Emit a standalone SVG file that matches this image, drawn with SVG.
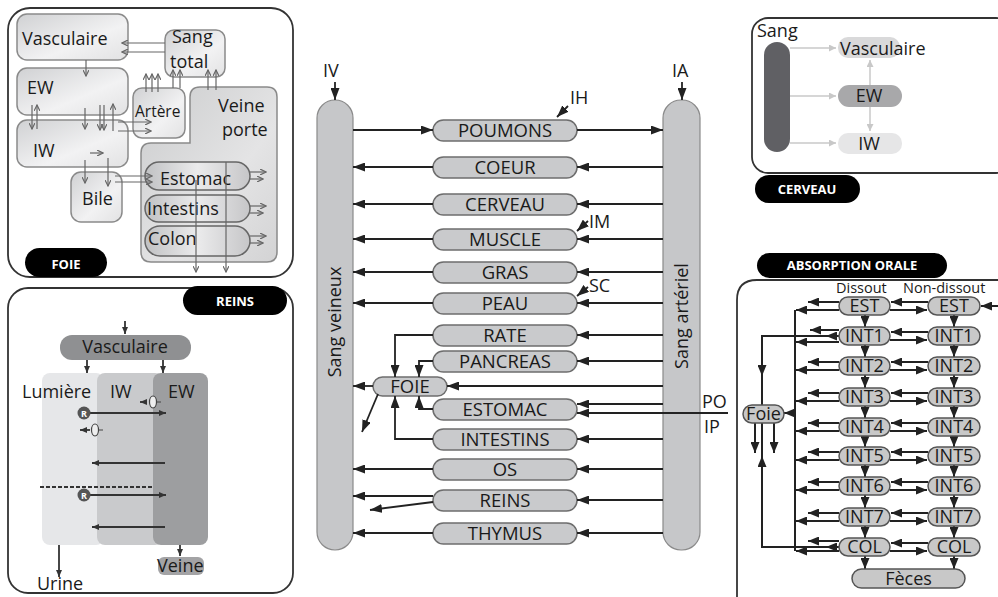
<svg xmlns="http://www.w3.org/2000/svg" width="998" height="597" viewBox="0 0 998 597">
<defs>
<style>
text{font-family:"Open Sans","Noto Sans","DejaVu Sans",sans-serif;fill:#1a1a1a}
.pill{fill:#c9cacc;stroke:#6d6d6d;stroke-width:1.5}
.col{fill:#c6c7c9;stroke:#8a8a8a;stroke-width:1.2}
.ln{fill:none;stroke:#222;stroke-width:1.8}
.t18{font-size:18px}
.t17{font-size:17px}
.tc{font-size:18.5px}
.lblt{fill:#fff;font-weight:bold;font-size:13px}
.panel{fill:#fff;stroke:#333;stroke-width:1.8}
.fb{stroke:#8a8a8a;stroke-width:1.5}
.fa{fill:none;stroke:#666;stroke-width:1.2}
.ap{fill:#c8c8c8;stroke:#555;stroke-width:1.5}
.al{fill:none;stroke:#222;stroke-width:2}
.cg{fill:none;stroke:#c8c8c8;stroke-width:1.5}
.rl{fill:none;stroke:#333;stroke-width:1.8}
</style>
<marker id="a" markerUnits="userSpaceOnUse" markerWidth="13" markerHeight="9" refX="12" refY="4.5" orient="auto"><path d="M0,0 L12,4.5 L0,9 z" fill="#222"/></marker>
<marker id="as" markerUnits="userSpaceOnUse" markerWidth="12" markerHeight="9" refX="11" refY="4.5" orient="auto"><path d="M0,0 L11,4.5 L0,9 z" fill="#222"/></marker>
<marker id="ms" markerUnits="userSpaceOnUse" markerWidth="7" markerHeight="6" refX="6" refY="3" orient="auto"><path d="M0,0 L6,3 L0,6" fill="none" stroke="#666" stroke-width="1.2"/></marker>
<marker id="rs" markerUnits="userSpaceOnUse" markerWidth="8" markerHeight="6" refX="7" refY="3" orient="auto"><path d="M0,0 L7,3 L0,6 z" fill="#333"/></marker>
<marker id="lg" markerUnits="userSpaceOnUse" markerWidth="8" markerHeight="7" refX="7" refY="3.5" orient="auto"><path d="M0,0 L7,3.5 L0,7 z" fill="#c8c8c8"/></marker>
<linearGradient id="gb" x1="0" y1="0" x2="1" y2="1"><stop offset="0" stop-color="#d0d1d3"/><stop offset="0.6" stop-color="#f2f2f3"/><stop offset="1" stop-color="#e2e2e3"/></linearGradient>
<linearGradient id="gp" x1="0" y1="0" x2="1" y2="1"><stop offset="0" stop-color="#cbcccd"/><stop offset="0.6" stop-color="#e4e4e5"/><stop offset="1" stop-color="#d3d3d4"/></linearGradient>
<linearGradient id="go" x1="0" y1="0" x2="1" y2="0"><stop offset="0" stop-color="#c0c1c3"/><stop offset="0.5" stop-color="#ebebec"/><stop offset="1" stop-color="#c6c6c8"/></linearGradient>
</defs>

<!-- ===== FOIE panel ===== -->
<g id="foie-panel">
<rect class="panel" x="8" y="8" width="285" height="269" rx="22"/>
<g id="f-vasc"><rect class="fb" fill="url(#gb)" x="17" y="14" width="111" height="46" rx="10"/><text class="t18" x="22" y="45">Vasculaire</text></g>
<g id="f-ew"><rect class="fb" fill="url(#gb)" x="17" y="68" width="111" height="47" rx="10"/><text class="t18" x="27" y="94">EW</text></g>
<g id="f-iw"><rect class="fb" fill="url(#gb)" x="17" y="120" width="111" height="47" rx="10"/><text class="t18" x="33" y="157">IW</text></g>
<g id="f-sang"><rect class="fb" fill="url(#gb)" x="165" y="30" width="60" height="47" rx="9"/><text class="t18" x="172" y="43">Sang</text><text class="t18" x="170" y="68">total</text></g>
<g id="f-artere"><rect class="fb" fill="url(#gb)" x="133" y="88" width="52" height="50" rx="9"/><text x="135" y="117" font-size="15.5">Artère</text></g>
<g id="f-veine"><path class="fb" fill="url(#gp)" d="M200,87 H267 Q277,87 277,97 V252 Q277,262 267,262 H151 Q141,262 141,252 V153 Q141,143 151,143 H190 V97 Q190,87 200,87 z"/><text class="t18" x="218" y="112">Veine</text><text class="t18" x="222" y="136">porte</text></g>
<g id="f-bile"><rect class="fb" fill="url(#gb)" x="71" y="172" width="51" height="50" rx="10"/><text class="t18" x="82" y="205">Bile</text></g>
<g id="f-estomac"><rect fill="url(#go)" stroke="#666" stroke-width="1.5" x="145" y="162" width="105" height="28" rx="14"/><text class="t18" x="160" y="185">Estomac</text></g>
<g id="f-intestins"><rect fill="url(#go)" stroke="#666" stroke-width="1.5" x="145" y="195" width="105" height="27" rx="13.5"/><text class="t18" x="147" y="215">Intestins</text></g>
<g id="f-colon"><rect fill="url(#go)" stroke="#666" stroke-width="1.5" x="145" y="226" width="105" height="30" rx="15"/><text class="t18" x="148" y="245">Colon</text></g>
<g id="f-label"><rect x="25" y="248" width="82" height="29" rx="14.5" fill="#000"/><text class="lblt" x="66" y="269" text-anchor="middle">FOIE</text></g>
<g id="f-connectors">
<path class="fa" marker-end="url(#ms)" d="M165,43 H122"/>
<path class="fa" marker-end="url(#ms)" d="M165,52 H122"/>
<path class="fa" marker-end="url(#ms)" d="M86,60 V76"/>
<path class="fa" marker-end="url(#ms)" d="M32,105 V129"/>
<path class="fa" marker-end="url(#ms)" d="M37,129 V105"/>
<path class="fa" marker-end="url(#ms)" d="M85,108 V129"/>
<path class="fa" marker-end="url(#ms)" d="M100,105 V130"/>
<path class="fa" marker-end="url(#ms)" d="M104,105 V130"/>
<path class="fa" marker-end="url(#ms)" d="M113,131 V104"/>
<path class="fa" marker-end="url(#ms)" d="M118,122 H151"/>
<path class="fa" marker-end="url(#ms)" d="M118,131 H151"/>
<path class="fa" marker-end="url(#ms)" d="M146,92 V74"/>
<path class="fa" marker-end="url(#ms)" d="M152,92 V74"/>
<path class="fa" marker-end="url(#ms)" d="M158,92 V74"/>
<path class="fa" marker-end="url(#ms)" d="M173,88 V70"/>
<path class="fa" marker-end="url(#ms)" d="M180,88 V70"/>
<path class="fa" marker-end="url(#ms)" d="M208,90 V70"/>
<path class="fa" marker-end="url(#ms)" d="M216,90 V70"/>
<path class="fa" marker-end="url(#ms)" d="M85,160 V183"/>
<path class="fa" marker-end="url(#ms)" d="M108,158 V186"/>
<path class="fa" marker-end="url(#ms)" d="M90,153 H103"/>
<path class="fa" marker-end="url(#ms)" d="M115,176 H152"/>
<path class="fa" marker-end="url(#ms)" d="M115,182 H152"/>
<path class="fa" marker-end="url(#ms)" d="M250,172 H266"/>
<path class="fa" marker-end="url(#ms)" d="M250,179 H263"/>
<path class="fa" marker-end="url(#ms)" d="M250,206 H266"/>
<path class="fa" marker-end="url(#ms)" d="M250,213 H263"/>
<path class="fa" marker-end="url(#ms)" d="M250,236 H266"/>
<path class="fa" marker-end="url(#ms)" d="M250,243 H263"/>
<path class="fa" marker-end="url(#ms)" d="M196,180 V272"/>
<path class="fa" marker-end="url(#ms)" d="M226,162 V272"/>
</g>
</g>

<!-- ===== REINS panel ===== -->
<g id="reins-panel">
<rect class="panel" x="8" y="288" width="285" height="305" rx="20"/>
<g id="r-label"><rect x="183" y="286" width="104" height="29" rx="14.5" fill="#000"/><text class="lblt" x="235" y="306" text-anchor="middle">REINS</text></g>
<g id="r-vasc"><rect x="60" y="335" width="131" height="25" rx="12" fill="#8f9092"/><text class="t18" x="125" y="353" text-anchor="middle">Vasculaire</text></g>
<g id="r-lumiere"><rect x="42" y="373" width="62" height="172" rx="8" fill="#e6e7e9"/></g>
<g id="r-iw"><rect x="97" y="373" width="66" height="172" rx="8" fill="#c9cacc"/></g>
<g id="r-ew"><rect x="153" y="373" width="55" height="172" rx="8" fill="#9d9ea0"/></g>
<text class="t18" x="22" y="398">Lumière</text>
<text class="t18" x="110" y="398">IW</text>
<text class="t18" x="168" y="398">EW</text>
<g id="r-veine"><rect x="158" y="557" width="46" height="18" rx="6" fill="#a3a3a5"/><text class="t18" x="157" y="572">Veine</text></g>
<text class="t18" x="37" y="590">Urine</text>
<g id="r-connectors">
<path class="rl" stroke-width="1.2" marker-end="url(#rs)" d="M125,321 V334"/>
<path class="rl" stroke-width="1.2" marker-end="url(#rs)" d="M87,360 V373"/>
<path class="rl" stroke-width="1.2" marker-end="url(#rs)" d="M163,360 V373"/>
<path class="rl" marker-end="url(#rs)" d="M89,413 H166"/>
<path class="rl" marker-end="url(#rs)" d="M165,463 H92"/>
<path class="rl" marker-end="url(#rs)" d="M89,495 H166"/>
<path class="rl" marker-end="url(#rs)" d="M165,527 H92"/>
<path class="rl" stroke-dasharray="4,2" d="M40,487 H153"/>
<path class="rl" stroke-width="1.2" marker-end="url(#rs)" d="M146,402 H140"/>
<path class="rl" stroke-width="1.2" marker-end="url(#rs)" d="M90,430 H80"/>
<path class="rl" stroke-width="1.2" marker-end="url(#rs)" d="M59,545 V577"/>
<path class="rl" stroke-width="1.2" marker-end="url(#rs)" d="M180,545 V556"/>
</g>
<g id="r-transporters">
<circle cx="84" cy="413" r="6.5" fill="#555"/><text x="84" y="417" font-size="9" font-weight="bold" text-anchor="middle" style="fill:#fff">R</text>
<circle cx="84" cy="495" r="6.5" fill="#555"/><text x="84" y="499" font-size="9" font-weight="bold" text-anchor="middle" style="fill:#fff">R</text>
<ellipse cx="153" cy="402" rx="3.5" ry="6" fill="#eee" stroke="#444" stroke-width="1.2"/>
<path d="M157,402 H161" stroke="#444" stroke-width="1"/>
<ellipse cx="95" cy="430" rx="3.5" ry="6" fill="#eee" stroke="#444" stroke-width="1.2"/>
<path d="M99,430 H103" stroke="#444" stroke-width="1"/>
</g>
</g>

<!-- ===== CENTER ===== -->
<g id="sang-veineux"><rect class="col" x="317" y="100" width="36" height="450" rx="18"/><text class="t18" transform="translate(341,322) rotate(-90)" text-anchor="middle">Sang veineux</text></g>
<g id="sang-arteriel"><rect class="col" x="663" y="100" width="37" height="450" rx="18"/><text class="t18" transform="translate(688,316) rotate(-90)" text-anchor="middle">Sang artériel</text></g>
<text class="t18" x="323" y="77">IV</text>
<text class="t18" x="672" y="77">IA</text>
<text class="t18" x="570" y="104">IH</text>
<text class="t18" x="589" y="228">IM</text>
<text class="t18" x="589" y="292">SC</text>
<text class="t18" x="702" y="408">PO</text>
<text class="t18" x="704" y="433">IP</text>

<g id="n-poumons"><rect class="pill" x="433" y="120" width="144" height="21" rx="10.5"/><text class="tc" x="505" y="137" text-anchor="middle">POUMONS</text></g>
<g id="n-coeur"><rect class="pill" x="433" y="157" width="144" height="21" rx="10.5"/><text class="tc" x="505" y="174" text-anchor="middle">COEUR</text></g>
<g id="n-cerveau"><rect class="pill" x="433" y="194" width="144" height="21" rx="10.5"/><text class="tc" x="505" y="211" text-anchor="middle">CERVEAU</text></g>
<g id="n-muscle"><rect class="pill" x="433" y="229" width="144" height="21" rx="10.5"/><text class="tc" x="505" y="246" text-anchor="middle">MUSCLE</text></g>
<g id="n-gras"><rect class="pill" x="433" y="262" width="144" height="21" rx="10.5"/><text class="tc" x="505" y="279" text-anchor="middle">GRAS</text></g>
<g id="n-peau"><rect class="pill" x="433" y="293" width="144" height="21" rx="10.5"/><text class="tc" x="505" y="310" text-anchor="middle">PEAU</text></g>
<g id="n-rate"><rect class="pill" x="433" y="325" width="144" height="21" rx="10.5"/><text class="tc" x="505" y="342" text-anchor="middle">RATE</text></g>
<g id="n-pancreas"><rect class="pill" x="433" y="351" width="144" height="21" rx="10.5"/><text class="tc" x="505" y="368" text-anchor="middle">PANCREAS</text></g>
<g id="n-foie"><rect class="pill" x="373" y="377" width="74" height="19" rx="9.5"/><text class="tc" x="410" y="393" text-anchor="middle">FOIE</text></g>
<g id="n-estomac"><rect class="pill" x="433" y="399" width="144" height="21" rx="10.5"/><text class="tc" x="505" y="416" text-anchor="middle">ESTOMAC</text></g>
<g id="n-intestins"><rect class="pill" x="433" y="429" width="144" height="21" rx="10.5"/><text class="tc" x="505" y="446" text-anchor="middle">INTESTINS</text></g>
<g id="n-os"><rect class="pill" x="433" y="459" width="144" height="21" rx="10.5"/><text class="tc" x="505" y="476" text-anchor="middle">OS</text></g>
<g id="n-reins"><rect class="pill" x="433" y="490" width="144" height="21" rx="10.5"/><text class="tc" x="505" y="507" text-anchor="middle">REINS</text></g>
<g id="n-thymus"><rect class="pill" x="433" y="523" width="144" height="21" rx="10.5"/><text class="tc" x="505" y="540" text-anchor="middle">THYMUS</text></g>

<g id="center-connectors">
<path class="ln" marker-end="url(#a)" d="M335,82 V100"/>
<path class="ln" marker-end="url(#a)" d="M682,82 V100"/>
<path class="ln" marker-end="url(#a)" d="M353,130 H433"/>
<path class="ln" marker-end="url(#a)" d="M577,130 H663"/>
<path class="ln" marker-end="url(#a)" d="M568,106 L557,117"/>
<path class="ln" marker-end="url(#a)" d="M588,221 L577,231"/>
<path class="ln" marker-end="url(#a)" d="M588,287 L577,296"/>
<path class="ln" marker-end="url(#a)" d="M663,167 H577"/><path class="ln" marker-end="url(#a)" d="M433,167 H353"/>
<path class="ln" marker-end="url(#a)" d="M663,204 H577"/><path class="ln" marker-end="url(#a)" d="M433,204 H353"/>
<path class="ln" marker-end="url(#a)" d="M663,239 H577"/><path class="ln" marker-end="url(#a)" d="M433,239 H353"/>
<path class="ln" marker-end="url(#a)" d="M663,272 H577"/><path class="ln" marker-end="url(#a)" d="M433,272 H353"/>
<path class="ln" marker-end="url(#a)" d="M663,303 H577"/><path class="ln" marker-end="url(#a)" d="M433,303 H353"/>
<path class="ln" marker-end="url(#a)" d="M663,335 H577"/><path class="ln" marker-end="url(#a)" d="M433,335 H395 V377"/>
<path class="ln" marker-end="url(#a)" d="M663,361 H577"/><path class="ln" marker-end="url(#a)" d="M433,361 H419 V377"/>
<path class="ln" marker-end="url(#a)" d="M663,386 H447"/><path class="ln" marker-end="url(#a)" d="M373,386 H353"/>
<path class="ln" marker-end="url(#a)" d="M378,394 L362,432"/>
<path class="ln" marker-end="url(#a)" d="M663,404 H577"/>
<path class="ln" marker-end="url(#a)" d="M728,413 H577"/>
<path class="ln" marker-end="url(#a)" d="M433,409 H419 V396"/>
<path class="ln" marker-end="url(#a)" d="M663,439 H577"/><path class="ln" marker-end="url(#a)" d="M433,439 H395 V396"/>
<path class="ln" marker-end="url(#a)" d="M663,469 H577"/><path class="ln" marker-end="url(#a)" d="M433,469 H353"/>
<path class="ln" marker-end="url(#a)" d="M663,500 H577"/><path class="ln" marker-end="url(#a)" d="M433,496 H353"/>
<path class="ln" marker-end="url(#a)" d="M433,502 L370,510"/>
<path class="ln" marker-end="url(#a)" d="M663,533 H577"/><path class="ln" marker-end="url(#a)" d="M433,533 H353"/>
</g>

<!-- ===== CERVEAU panel ===== -->
<g id="cerveau-panel">
<rect class="panel" x="752" y="18" width="260" height="155" rx="16"/>
<g id="c-sang"><rect x="764" y="42" width="26" height="110" rx="13" fill="#606064"/><text class="t18" x="757" y="37">Sang</text></g>
<g id="c-vasc"><rect x="838" y="37" width="62" height="21" rx="10" fill="#d9d9da"/><text class="t18" x="840" y="55">Vasculaire</text></g>
<g id="c-ew"><rect x="838" y="85" width="64" height="22" rx="11" fill="#a8a8aa"/><text class="t18" x="869" y="102" text-anchor="middle">EW</text></g>
<g id="c-iw"><rect x="838" y="133" width="64" height="21" rx="10" fill="#e6e6e7"/><text class="t18" x="869" y="150" text-anchor="middle">IW</text></g>
<g id="c-connectors">
<path class="cg" marker-end="url(#lg)" d="M790,48 H836"/>
<path class="cg" marker-end="url(#lg)" d="M790,96 H836"/>
<path class="cg" marker-end="url(#lg)" d="M790,143 H836"/>
<path class="cg" marker-end="url(#lg)" d="M870,85 V60"/>
<path class="cg" marker-end="url(#lg)" d="M870,107 V131"/>
</g>
<g id="c-label"><rect x="755" y="175" width="105" height="28" rx="14" fill="#000"/><text class="lblt" x="807" y="194" text-anchor="middle">CERVEAU</text></g>
</g>

<!-- ===== ABSORPTION ORALE panel ===== -->
<g id="abs-panel">
<path class="panel" d="M1010,280 H757 Q737,280 737,300 V610"/>
<g id="abs-label"><rect x="757" y="253" width="190" height="25" rx="12.5" fill="#000"/><text class="lblt" x="852" y="270" text-anchor="middle">ABSORPTION ORALE</text></g>
<text x="836" y="293" font-size="14.5">Dissout</text>
<text x="903" y="293" font-size="14.5">Non-dissout</text>
<g id="abs-connectors">
<path class="al" marker-end="url(#as)" d="M998,306 H981"/>
<path class="al" d="M795,310 V551"/>
<path class="al" marker-end="url(#as)" d="M795,413 H784"/>
<path class="al" d="M762,405 V336 H828"/>
<path class="al" marker-end="url(#as)" d="M839,336 H826"/>
<path class="al" marker-end="url(#as)" d="M762,356 V376"/>
<path class="al" d="M762,422 V547 H828"/>
<path class="al" marker-end="url(#as)" d="M839,547 H826"/>
<path class="al" marker-end="url(#as)" d="M762,480 V456"/>
<path class="al" marker-end="url(#as)" d="M755,422 V453"/>
<path class="al" marker-end="url(#as)" d="M774,422 V453"/>
</g>
<g id="abs-rows">
<g id="r0">
<path class="al" marker-end="url(#as)" d="M928,302 H891"/><path class="al" marker-end="url(#as)" d="M890,310 H927"/>
<path class="al" marker-end="url(#as)" d="M839,302 H808"/><path class="al" marker-end="url(#as)" d="M839,310 H796"/>
<path class="al" marker-end="url(#as)" d="M865,315 V327"/><path class="al" marker-end="url(#as)" d="M954,315 V327"/>
</g>
<g id="r1">
<path class="al" marker-end="url(#as)" d="M928,332 H891"/><path class="al" marker-end="url(#as)" d="M890,340 H927"/>
<path class="al" marker-end="url(#as)" d="M839,330 H810"/><path class="al" marker-end="url(#as)" d="M839,342 H796"/>
<path class="al" marker-end="url(#as)" d="M865,345 V357"/><path class="al" marker-end="url(#as)" d="M954,345 V357"/>
</g>
<g id="r2">
<path class="al" marker-end="url(#as)" d="M928,362 H891"/><path class="al" marker-end="url(#as)" d="M890,370 H927"/>
<path class="al" marker-end="url(#as)" d="M839,362 H808"/><path class="al" marker-end="url(#as)" d="M839,370 H796"/>
<path class="al" marker-end="url(#as)" d="M865,375 V388"/><path class="al" marker-end="url(#as)" d="M954,375 V388"/>
</g>
<g id="r3">
<path class="al" marker-end="url(#as)" d="M928,393 H891"/><path class="al" marker-end="url(#as)" d="M890,401 H927"/>
<path class="al" marker-end="url(#as)" d="M839,393 H808"/><path class="al" marker-end="url(#as)" d="M839,401 H796"/>
<path class="al" marker-end="url(#as)" d="M865,406 V418"/><path class="al" marker-end="url(#as)" d="M954,406 V418"/>
</g>
<g id="r4">
<path class="al" marker-end="url(#as)" d="M928,423 H891"/><path class="al" marker-end="url(#as)" d="M890,431 H927"/>
<path class="al" marker-end="url(#as)" d="M839,423 H808"/><path class="al" marker-end="url(#as)" d="M839,431 H796"/>
<path class="al" marker-end="url(#as)" d="M865,436 V447"/><path class="al" marker-end="url(#as)" d="M954,436 V447"/>
</g>
<g id="r5">
<path class="al" marker-end="url(#as)" d="M928,452 H891"/><path class="al" marker-end="url(#as)" d="M890,460 H927"/>
<path class="al" marker-end="url(#as)" d="M839,452 H808"/><path class="al" marker-end="url(#as)" d="M839,460 H796"/>
<path class="al" marker-end="url(#as)" d="M865,465 V477"/><path class="al" marker-end="url(#as)" d="M954,465 V477"/>
</g>
<g id="r6">
<path class="al" marker-end="url(#as)" d="M928,482 H891"/><path class="al" marker-end="url(#as)" d="M890,490 H927"/>
<path class="al" marker-end="url(#as)" d="M839,482 H808"/><path class="al" marker-end="url(#as)" d="M839,490 H796"/>
<path class="al" marker-end="url(#as)" d="M865,495 V508"/><path class="al" marker-end="url(#as)" d="M954,495 V508"/>
</g>
<g id="r7">
<path class="al" marker-end="url(#as)" d="M928,513 H891"/><path class="al" marker-end="url(#as)" d="M890,521 H927"/>
<path class="al" marker-end="url(#as)" d="M839,513 H808"/><path class="al" marker-end="url(#as)" d="M839,521 H796"/>
<path class="al" marker-end="url(#as)" d="M865,526 V538"/><path class="al" marker-end="url(#as)" d="M954,526 V538"/>
</g>
<g id="r8">
<path class="al" marker-end="url(#as)" d="M928,543 H891"/><path class="al" marker-end="url(#as)" d="M890,551 H927"/>
<path class="al" marker-end="url(#as)" d="M839,541 H808"/><path class="al" marker-end="url(#as)" d="M839,551 H796"/>
<path class="al" marker-end="url(#as)" d="M865,556 V569"/><path class="al" marker-end="url(#as)" d="M954,556 V569"/>
</g>
</g>
<g id="abs-nodes">
<g id="d-est"><rect class="ap" x="839" y="297" width="51" height="18" rx="9"/><text class="t18" x="864.5" y="312" text-anchor="middle">EST</text></g>
<g id="d-int1"><rect class="ap" x="839" y="327" width="51" height="18" rx="9"/><text class="t18" x="864.5" y="342" text-anchor="middle">INT1</text></g>
<g id="d-int2"><rect class="ap" x="839" y="357" width="51" height="18" rx="9"/><text class="t18" x="864.5" y="372" text-anchor="middle">INT2</text></g>
<g id="d-int3"><rect class="ap" x="839" y="388" width="51" height="18" rx="9"/><text class="t18" x="864.5" y="403" text-anchor="middle">INT3</text></g>
<g id="d-int4"><rect class="ap" x="839" y="418" width="51" height="18" rx="9"/><text class="t18" x="864.5" y="433" text-anchor="middle">INT4</text></g>
<g id="d-int5"><rect class="ap" x="839" y="447" width="51" height="18" rx="9"/><text class="t18" x="864.5" y="462" text-anchor="middle">INT5</text></g>
<g id="d-int6"><rect class="ap" x="839" y="477" width="51" height="18" rx="9"/><text class="t18" x="864.5" y="492" text-anchor="middle">INT6</text></g>
<g id="d-int7"><rect class="ap" x="839" y="508" width="51" height="18" rx="9"/><text class="t18" x="864.5" y="523" text-anchor="middle">INT7</text></g>
<g id="d-col"><rect class="ap" x="839" y="538" width="51" height="18" rx="9"/><text class="t18" x="864.5" y="553" text-anchor="middle">COL</text></g>
<g id="u-est"><rect class="ap" x="928" y="297" width="52" height="18" rx="9"/><text class="t18" x="954" y="312" text-anchor="middle">EST</text></g>
<g id="u-int1"><rect class="ap" x="928" y="327" width="52" height="18" rx="9"/><text class="t18" x="954" y="342" text-anchor="middle">INT1</text></g>
<g id="u-int2"><rect class="ap" x="928" y="357" width="52" height="18" rx="9"/><text class="t18" x="954" y="372" text-anchor="middle">INT2</text></g>
<g id="u-int3"><rect class="ap" x="928" y="388" width="52" height="18" rx="9"/><text class="t18" x="954" y="403" text-anchor="middle">INT3</text></g>
<g id="u-int4"><rect class="ap" x="928" y="418" width="52" height="18" rx="9"/><text class="t18" x="954" y="433" text-anchor="middle">INT4</text></g>
<g id="u-int5"><rect class="ap" x="928" y="447" width="52" height="18" rx="9"/><text class="t18" x="954" y="462" text-anchor="middle">INT5</text></g>
<g id="u-int6"><rect class="ap" x="928" y="477" width="52" height="18" rx="9"/><text class="t18" x="954" y="492" text-anchor="middle">INT6</text></g>
<g id="u-int7"><rect class="ap" x="928" y="508" width="52" height="18" rx="9"/><text class="t18" x="954" y="523" text-anchor="middle">INT7</text></g>
<g id="u-col"><rect class="ap" x="928" y="538" width="52" height="18" rx="9"/><text class="t18" x="954" y="553" text-anchor="middle">COL</text></g>
<g id="a-feces"><rect class="ap" x="852" y="569" width="113" height="19" rx="9.5"/><text class="t18" x="908.5" y="585" text-anchor="middle">Fèces</text></g>
<g id="a-foie"><rect class="ap" x="743" y="405" width="41" height="18" rx="9"/><text class="t18" x="763.5" y="420" text-anchor="middle">Foie</text></g>
</g>
</g>
</svg>
